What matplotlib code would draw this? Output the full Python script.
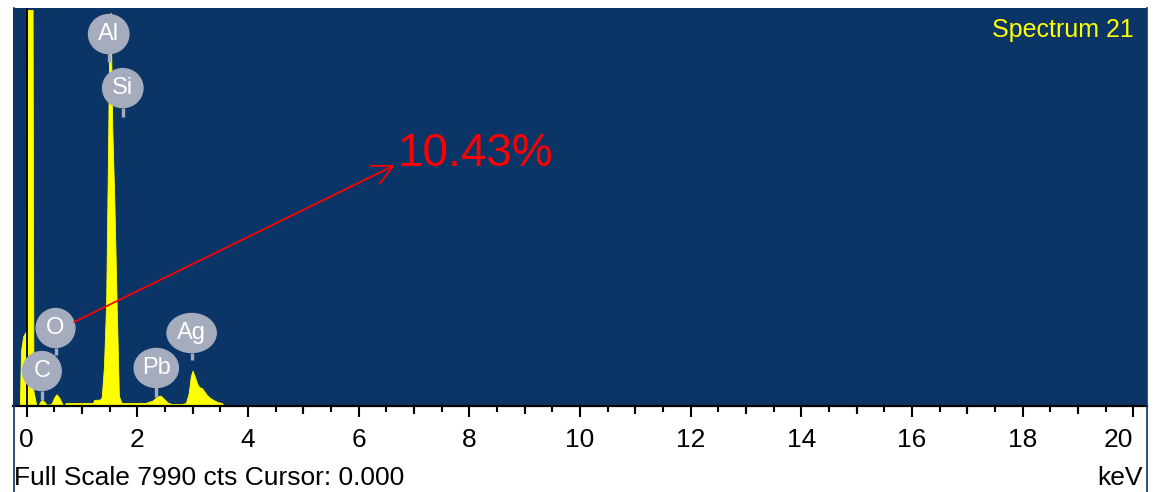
import numpy as np
import matplotlib
matplotlib.use("Agg")
import matplotlib.pyplot as plt
from matplotlib.patches import Ellipse
from matplotlib.lines import Line2D

plt.rcParams['font.family'] = ['Liberation Sans', 'DejaVu Sans']

# EDS spectrum, energy in keV and counts per channel
energy = [-0.24, -0.12, -0.10, -0.06, -0.01, 0.012, 0.02, 0.10, 0.11, 0.125, 0.18, 0.21,
          0.25, 0.28, 0.32, 0.36, 0.42, 0.46, 0.50, 0.545, 0.59, 0.65, 0.68, 0.71,
          1.00, 1.20, 1.22, 1.33, 1.36, 1.40, 1.44, 1.47, 1.50, 1.52, 1.55, 1.59,
          1.63, 1.67, 1.72, 2.15, 2.28, 2.36, 2.42, 2.48, 2.55, 2.62, 2.80, 2.88,
          2.93, 2.97, 3.00, 3.04, 3.08, 3.12, 3.17, 3.22, 3.26, 3.32, 3.38, 3.45,
          3.53, 3.57, 20.25]
counts = [0, 0, 1100, 1400, 1500, 1500, 7950, 7950, 7950, 300, 0, 0,
          90, 120, 90, 30, 30, 60, 170, 235, 170, 30, 0, 60,
          60, 60, 120, 130, 180, 800, 2100, 4800, 7800, 7900, 5600, 4000,
          2000, 200, 60, 60, 110, 190, 210, 150, 70, 40, 40, 60,
          250, 600, 710, 600, 460, 380, 360, 280, 220, 160, 120, 80,
          60, 0, 0]

elements = ['C', 'O', 'Al', 'Si', 'Pb', 'Ag']
element_kev = [0.277, 0.525, 1.486, 1.740, 2.345, 2.984]
# where each marker bubble sits (counts) and how far its stem reaches down
bubble_y = [702, 1565, 7466, 6382, 763, 1465]
stem_end = [120, 1024, 6904, 5800, 180, 923]
bubble_w = [0.70, 0.70, 0.73, 0.73, 0.80, 0.89]

full_scale = 7990
cursor = 0.000
spectrum_name = 'Spectrum 21'
o_percent = 10.43

navy = '#0b3566'
bubble = '#a5acbe'

fig = plt.figure(figsize=(11.58, 4.92), dpi=100)
W, H = 1158, 492
ax = fig.add_axes([13 / W, (H - 406) / H, (1147 - 13) / W, (406 - 8) / H])
ax.set_facecolor(navy)
ax.set_xlim(-0.244, 20.25)
ax.set_ylim(0, full_scale)

ax.fill_between(energy, counts, 0, color='#ffff00', lw=0.6, zorder=2)
ax.axvline(cursor, color='black', lw=1.3, zorder=3)

bh = 39 * full_scale / 398
for name, e, by, se, bw in zip(elements, element_kev, bubble_y, stem_end, bubble_w):
    ax.plot([e, e], [se, by - bh / 2], color=bubble, lw=2.4, solid_capstyle='butt', zorder=4)
    ax.add_patch(Ellipse((e, by), bw, bh, color=bubble, zorder=5))
    ax.text(e, by, name, color='white', fontsize=17, ha='center', va='center', zorder=6)

# oxygen content call-out
ax.annotate('', xy=(6.66, 4837), xytext=(0.86, 1686),
            arrowprops=dict(arrowstyle='->,head_length=0.8,head_width=0.4',
                            color='red', lw=1.3, mutation_scale=18, shrinkA=0, shrinkB=0),
            zorder=7)
ax.text(6.71, 4817, f'{o_percent:.2f}%', color='red', fontsize=33, va='baseline', zorder=7)

ax.text(0.9885, 0.975, spectrum_name, transform=ax.transAxes, color='#ffff00',
        fontsize=18, ha='right', va='top')

for s in ['top', 'left', 'right']:
    ax.spines[s].set_visible(False)
ax.spines['bottom'].set_linewidth(1.6)
ax.spines['bottom'].set_color('black')
ax.set_yticks([])
ax.set_xticks(np.arange(0, 21, 2))
ax.set_xticks(np.arange(0, 20.01, 0.5), minor=True)
ax.tick_params(axis='x', which='major', length=8, width=1.5, labelsize=19, pad=8)
ax.tick_params(axis='x', which='minor', length=4, width=1.5)
ax.get_xticklabels()[-1].set_horizontalalignment('right')

# odd keV ticks sit between the major and half-keV lengths
sec = ax.secondary_xaxis('bottom')
sec.set_xticks(np.arange(1, 20, 2))
sec.set_xticklabels([])
sec.spines['bottom'].set_visible(False)
sec.tick_params(length=6, width=1.5)

# frame lines running down the sides of the panel
for xp in (13.5, 1146.5):
    fig.add_artist(Line2D([xp / W, xp / W], [0, (H - 8) / H], color=navy, lw=1.2))

fig.text(14 / W, 7 / H, f'Full Scale {full_scale} cts Cursor: {cursor:.3f}',
         fontsize=19, ha='left', va='baseline')
fig.text(1143 / W, 7 / H, 'keV', fontsize=19, ha='right', va='baseline')

fig.savefig('out.png', dpi=100)
